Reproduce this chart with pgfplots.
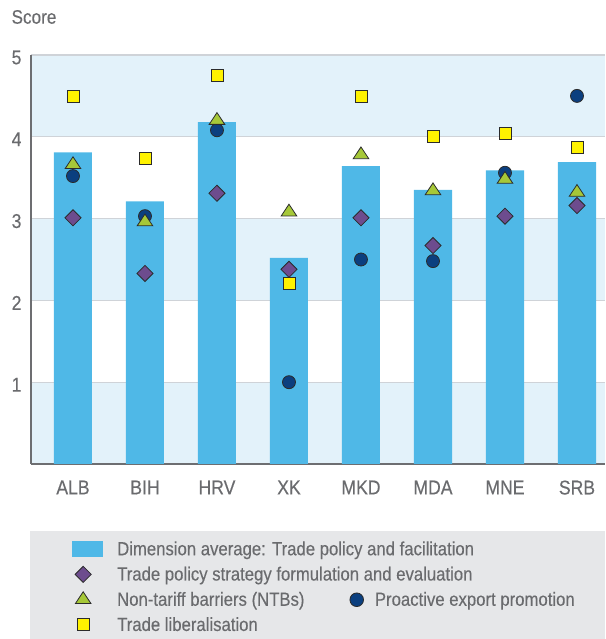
\documentclass[border=0pt]{standalone}
\usepackage{fontspec}
\setmainfont{Liberation Sans}[FakeStretch=0.88, FakeBold=0.3]
\usepackage{pgfplots}
\pgfplotsset{compat=1.18}
\definecolor{barblue}{HTML}{4FB8E7}
\definecolor{band}{HTML}{E3F2FA}
\definecolor{gridgray}{HTML}{CFD3D8}
\definecolor{axisgray}{HTML}{6D6E71}
\definecolor{textgray}{HTML}{6A6B6E}
\definecolor{legendgray}{HTML}{E6E7E9}
\definecolor{dpurple}{HTML}{6D4C8E}
\definecolor{tgreen}{HTML}{A6C838}
\definecolor{cnavy}{HTML}{0B3F7F}
\definecolor{syellow}{HTML}{FFF200}
\definecolor{edge}{HTML}{2B2B2B}
\begin{document}
\begin{tikzpicture}[font=\fontsize{18}{21}\selectfont, text=textgray]
\fill[legendgray] (-1pt,-67pt) rectangle (574pt,-175pt);
\begin{axis}[
  set layers,
  scale only axis,
  width=574pt, height=409pt,
  xmin=-0.583, xmax=7.389,
  ymin=0, ymax=5,
  ytick={1,2,3,4,5},
  xtick={0,...,7},
  xticklabels={ALB,BIH,HRV,XK,MKD,MDA,MNE,SRB},
  /pgf/number format/assume math mode=true,
  tick label style={font=\fontsize{20}{23}\selectfont, text=textgray},
  xticklabel style={yshift=-13pt},
  yticklabel style={xshift=-6pt, yshift=-2.5pt},
  major tick length=0pt,
  axis x line*=bottom, axis y line*=left,
  axis line style={draw=axisgray, line width=1.6pt, -},
  ymajorgrids,
  grid style={draw=gridgray, line width=1.3pt},
  clip=false,
  legend style={draw=none, fill=none, at={(axis description cs:0.0714,-0.188)}, anchor=north west,
    font=\fontsize{19}{22}\selectfont, text=textgray, row sep=9.2pt, column sep=14pt,
    inner sep=0pt, nodes={inner sep=0pt}},
  legend cell align=left,
]
\begin{pgfonlayer}{axis background}
\fill[band] (rel axis cs:0,0) rectangle (rel axis cs:1,0.2);
\fill[band] (rel axis cs:0,0.4) rectangle (rel axis cs:1,0.6);
\fill[band] (rel axis cs:0,0.8) rectangle (rel axis cs:1,1);
\end{pgfonlayer}
\addplot[ybar, bar width=0.528, fill=barblue, draw=none,
  legend image code/.code={\fill[barblue] (0pt,-8pt) rectangle (31pt,8pt);}]
  coordinates {(0,3.81) (1,3.21) (2,4.18) (3,2.52) (4,3.64) (5,3.35) (6,3.59) (7,3.69)};
\addlegendentry{Dimension average: Trade policy and facilitation}
\addplot[only marks, mark=square*, mark size=5.7pt, mark options={rotate=45, fill=dpurple, draw=edge, line width=0.8pt},
  legend image code/.code={\path[draw=none, fill=none] (0pt,-8pt) rectangle (31pt,8pt); \draw plot coordinates {(11pt,0pt)};}]
  coordinates {(0,3.01) (1,2.33) (2,3.31) (3,2.38) (4,3.01) (5,2.67) (6,3.03) (7,3.16)};
\addlegendentry{Trade policy strategy formulation and evaluation}
\addplot[forget plot, only marks, mark=*, mark size=6.5pt, mark options={fill=cnavy, draw=edge, line width=0.8pt}]
  coordinates {(0,3.52) (1,3.03) (2,4.08) (3,1.00) (4,2.50) (5,2.48) (6,3.56) (7,4.50)};
\addplot[only marks, mark=triangle*, mark size=9pt, mark options={yscale=0.87, fill=tgreen, draw=edge, line width=0.8pt},
  legend image code/.code={\path[draw=none, fill=none] (0pt,-8pt) rectangle (31pt,8pt); \draw plot coordinates {(11pt,0pt)};}]
  coordinates {(0,3.66) (1,2.96) (2,4.20) (3,3.08) (4,3.78) (5,3.34) (6,3.48) (7,3.32)};
\addlegendentry{Non-tariff barriers (NTBs)\hspace{45pt}\tikz[baseline=-6pt]\draw[fill=cnavy, draw=edge, line width=0.8pt] (0,0) circle (6.8pt);\hspace{11pt}Proactive export promotion}
\addplot[only marks, mark=square*, mark size=6pt, mark options={fill=syellow, draw=edge, line width=0.8pt},
  legend image code/.code={\path[draw=none, fill=none] (0pt,-8pt) rectangle (31pt,8pt); \draw plot coordinates {(11pt,0pt)};}]
  coordinates {(0,4.49) (1,3.74) (2,4.75) (3,2.21) (4,4.49) (5,4.00) (6,4.04) (7,3.87)};
\addlegendentry{Trade liberalisation}
\node[anchor=west, font=\fontsize{19.5}{22}\selectfont, text=textgray] at (axis description cs:-0.04,1.093) {Score};
\end{axis}
\path (-31pt,-175pt) rectangle (574pt,464pt);
\end{tikzpicture}
\end{document}
